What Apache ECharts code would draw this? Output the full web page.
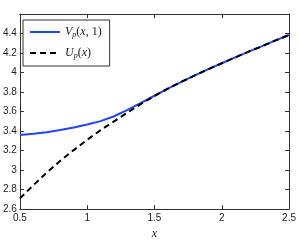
<!DOCTYPE html>
<html><head><meta charset="utf-8">
<script src="https://cdn.jsdelivr.net/npm/echarts@6/dist/echarts.min.js"></script>
<style>html,body{margin:0;padding:0;background:#fff}#c{width:299px;height:245px}</style>
</head><body><div id="c"></div>
<script>
const xValues = [0.5,0.6,0.7,0.8,0.9,1.0,1.1,1.2,1.3,1.4,1.5,1.6,1.7,1.8,1.9,2.0,2.1,2.2,2.3,2.4,2.5];
const vValues = [3.36,3.372,3.388,3.41,3.436,3.467,3.502,3.552,3.618,3.69,3.762,3.835,3.905,3.97,4.035,4.095,4.155,4.215,4.27,4.33,4.385];
const uValues = [2.71,2.845,2.975,3.095,3.205,3.31,3.41,3.50,3.59,3.678,3.76,3.835,3.905,3.97,4.035,4.095,4.155,4.215,4.27,4.33,4.385];
const xTicks = [0.5,1,1.5,2,2.5];
const yTicks = [2.6,2.8,3,3.2,3.4,3.6,3.8,4,4.2,4.4];

const chart = echarts.init(document.getElementById('c'));
const axisColor = '#333';
const lblFont = {fontFamily:'Liberation Sans', fontSize:10, color:'#222'};
const fmt = v => String(+v.toFixed(1));
chart.setOption({
  animation:false,
  grid:{left:19, right:7, top:14, bottom:25.5},
  legend:{
    left:23, top:20, orient:'vertical', width:82, height:43,
    borderColor:'#333', borderWidth:1, padding:[6,8,6,6], itemGap:8,
    itemWidth:30, itemHeight:10, backgroundColor:'#fff',
    itemStyle:{opacity:0},
    data:['V','U'],
    formatter: n => n==='V' ? '{it|V}{sub|p}{n|(}{it|x}{n|, 1)}' : '{it|U}{sub|p}{n|(}{it|x}{n|)}',
    textStyle:{
      rich:{
        it:{fontFamily:'Liberation Serif', fontStyle:'italic', fontSize:12, color:'#222', verticalAlign:'middle'},
        n:{fontFamily:'Liberation Serif', fontSize:12, color:'#222', verticalAlign:'middle'},
        sub:{fontFamily:'Liberation Serif', fontStyle:'italic', fontSize:8, color:'#222', padding:[6,0,0,0]}
      }
    }
  },
  xAxis:[{
    type:'value', min:0.5, max:2.5, interval:0.5,
    axisLine:{lineStyle:{color:axisColor, width:1}},
    axisTick:{inside:true, length:4, lineStyle:{color:axisColor}},
    axisLabel:{...lblFont, margin:4, formatter:fmt},
    splitLine:{show:false},
    name:'x', nameLocation:'middle', nameGap:18,
    nameTextStyle:{fontFamily:'Liberation Serif', fontStyle:'italic', fontSize:12, color:'#222'}
  },{
    type:'value', position:'top', min:0.5, max:2.5, interval:0.5,
    axisLine:{lineStyle:{color:axisColor, width:1}},
    axisTick:{inside:true, length:4, lineStyle:{color:axisColor}},
    axisLabel:{show:false}, splitLine:{show:false}
  }],
  yAxis:[{
    type:'value', min:2.6, max:4.6, interval:0.2,
    axisLine:{show:true, lineStyle:{color:axisColor, width:1}},
    axisTick:{show:true, inside:true, length:4, lineStyle:{color:axisColor}},
    axisLabel:{...lblFont, margin:3, showMaxLabel:false, formatter:fmt},
    splitLine:{show:false}
  },{
    type:'value', position:'right', min:2.6, max:4.6, interval:0.2,
    axisLine:{show:true, lineStyle:{color:axisColor, width:1}},
    axisTick:{show:true, inside:true, length:4, lineStyle:{color:axisColor}},
    axisLabel:{show:false}, splitLine:{show:false}
  }],
  series:[{
    name:'V', type:'line', smooth:false, symbol:'none',
    data:xValues.map((x,i)=>[x,vValues[i]]),
    lineStyle:{color:'#2443ff', width:2}, itemStyle:{color:'#2443ff'}, z:2
  },{
    name:'U', type:'line', smooth:false, symbol:'none',
    data:xValues.map((x,i)=>[x,uValues[i]]),
    lineStyle:{color:'#000', width:2, type:[6,4]}, itemStyle:{color:'#000'}, z:3
  }]
});
</script></body></html>
